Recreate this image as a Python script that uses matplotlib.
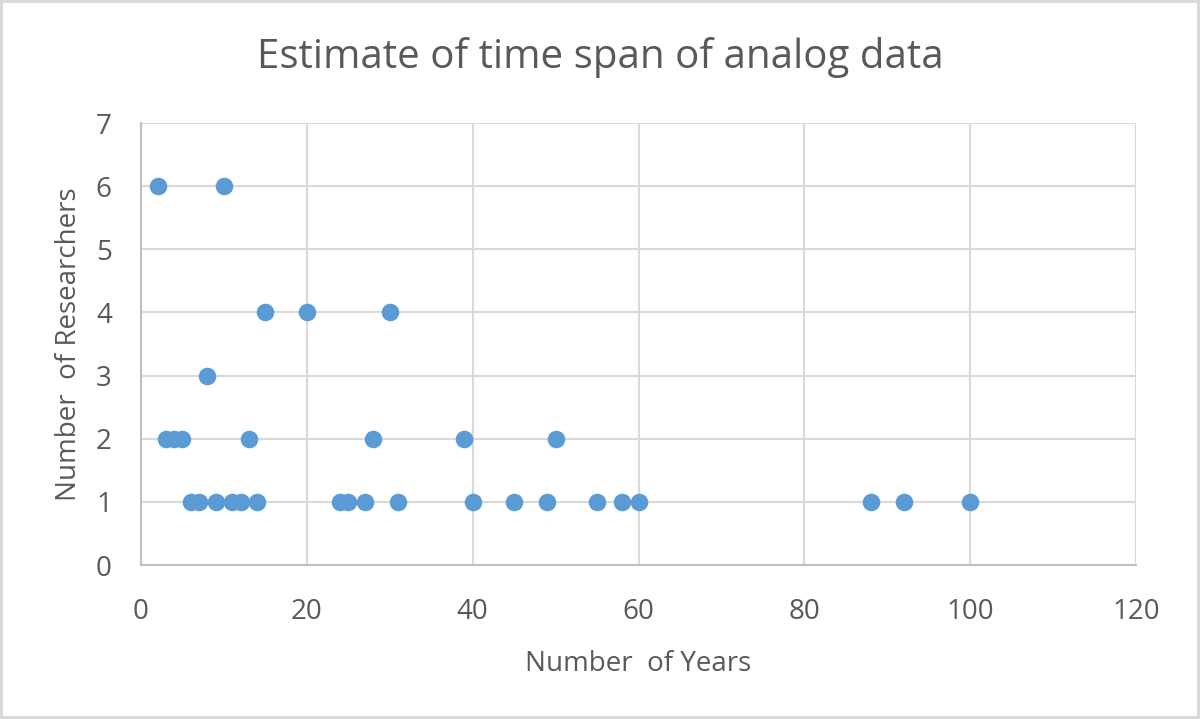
import matplotlib.pyplot as plt
import numpy as np

plt.rcParams['font.family'] = ['Open Sans', 'DejaVu Sans']

# data
years = [2, 10,
         15, 20, 30,
         8,
         3, 4, 5, 13, 28, 39, 50,
         6, 7, 9, 11, 12, 14, 24, 25, 27, 31, 40, 45, 49, 55, 58, 60, 88, 92, 100]
researchers = [6, 6,
               4, 4, 4,
               3,
               2, 2, 2, 2, 2, 2, 2,
               1, 1, 1, 1, 1, 1, 1, 1, 1, 1, 1, 1, 1, 1, 1, 1, 1, 1, 1]
xticks = [0, 20, 40, 60, 80, 100, 120]
yticks = [0, 1, 2, 3, 4, 5, 6, 7]

txt = '#595959'
grid = '#d9d9d9'

fig = plt.figure(figsize=(12, 7.19), dpi=100, facecolor='white',
                 edgecolor=grid, linewidth=3)
ax = fig.add_axes([141/1200, 1-565/719, (1136-141)/1200, (565-123)/719])

ax.scatter(years, researchers, s=160, color='#5b9bd5', zorder=3, linewidths=0)

ax.set_xlim(0, 120)
ax.set_ylim(0, 7)
ax.set_xticks(xticks)
ax.set_yticks(yticks)
ax.grid(True, color=grid, linewidth=1.5, zorder=0)
ax.tick_params(length=0, labelsize=20, colors=txt)
ax.tick_params(axis='x', pad=24)
ax.tick_params(axis='y', pad=21)
for s in ['top', 'right']:
    ax.spines[s].set_visible(False)
for s in ['left', 'bottom']:
    ax.spines[s].set_color('#bfbfbf')
    ax.spines[s].set_linewidth(1.5)

ax.set_xlabel('Number  of Years', fontsize=20, color=txt, labelpad=17)
ax.set_ylabel('Number  of Researchers', fontsize=20, color=txt, labelpad=9)
fig.text(0.5, 1-57/719, 'Estimate of time span of analog data', fontsize=29,
         color=txt, ha='center', va='center')

fig.savefig('out.png', dpi=100)
